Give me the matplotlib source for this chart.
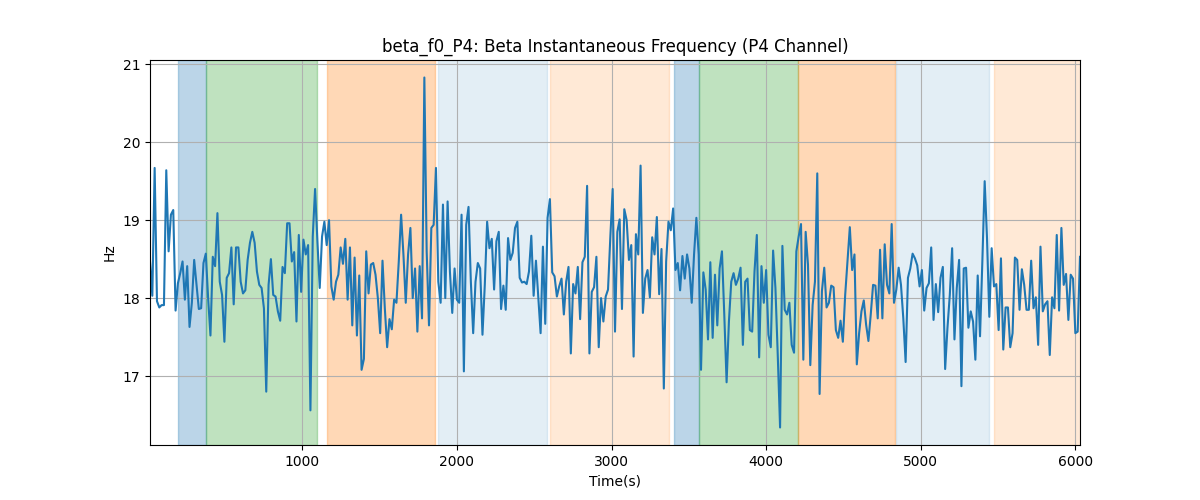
import numpy as np
import matplotlib
matplotlib.use("Agg")
import matplotlib.pyplot as plt

# beta instantaneous frequency, P4 channel (Hz), one sample every ~15 s
freq_hz = [
    18.47, 18.03, 19.67, 17.96, 17.88, 17.91, 17.91, 19.64, 18.60, 19.07,
    19.13, 17.84, 18.19, 18.32, 18.47, 17.98, 18.41, 17.63, 17.94, 18.49,
    18.17, 17.86, 17.87, 18.45, 18.57, 18.00, 17.52, 18.53, 18.41, 19.09,
    18.21, 18.04, 17.44, 18.26, 18.32, 18.65, 17.92, 18.65, 18.65, 18.21,
    18.06, 18.10, 18.49, 18.71, 18.85, 18.71, 18.34, 18.17, 18.13, 17.87,
    16.80,
    18.17, 18.50, 18.04, 18.02, 17.83, 17.71, 18.40, 18.32, 18.96, 18.96,
    18.47, 18.59, 17.70, 18.81, 18.08, 18.75, 18.56, 18.68, 16.56, 18.79,
    19.40, 18.73, 18.13, 18.79, 18.98, 18.68, 19.00, 18.15, 17.98, 18.21,
    18.30, 18.65, 18.44, 18.76, 17.98, 18.65, 17.65, 18.52, 17.52, 18.29,
    17.08, 17.22, 18.60, 18.06, 18.43, 18.45, 18.30, 18.00, 17.55, 18.48,
    17.87, 17.37, 17.73, 17.60,
    17.98, 17.94, 18.47, 19.07, 18.56, 17.94, 18.56, 18.90, 18.00, 18.38,
    17.57, 18.41, 17.74, 20.83, 18.60, 17.65, 18.90, 18.94, 19.67, 18.21,
    17.94, 19.20, 18.00, 19.24, 18.34, 17.81, 18.38, 17.98, 17.94, 19.07,
    17.06, 18.94, 19.17, 18.21, 17.55, 18.21, 18.45, 18.38, 17.53, 18.17,
    18.98, 18.64, 18.76, 18.11, 18.73, 18.85, 17.86, 18.16, 17.85, 18.77,
    18.49, 18.58, 18.90, 18.98,
    18.26, 18.20, 18.21, 18.18, 18.34, 18.80, 18.03, 18.48, 18.02, 17.55,
    18.66, 17.67, 19.03, 19.27, 18.33, 18.28, 18.02, 18.15, 18.25, 17.79,
    18.21, 18.40, 17.29, 18.18, 18.06, 18.40, 17.73, 18.46, 18.53, 19.44,
    17.29, 18.08, 18.14, 18.53, 17.37, 18.00, 17.70, 18.02, 18.11, 18.79,
    19.40, 17.57, 18.85, 19.01, 17.86, 19.14, 19.00, 18.49, 18.68, 17.25,
    18.82, 18.56, 19.70, 17.81,
    18.25, 18.36, 18.01, 18.78, 18.56, 19.04, 18.05, 18.63, 16.84, 18.47,
    18.98, 18.87, 19.15, 18.36, 18.45, 18.10, 18.54, 18.25, 18.56, 18.38,
    17.94, 18.56, 19.03, 18.56, 17.08, 18.33, 18.11, 17.47, 18.46, 17.49,
    18.30, 17.65, 18.38, 18.60, 17.79, 16.92, 17.70, 18.21, 18.32, 18.17,
    18.25, 18.39, 17.40, 18.21, 18.25, 17.59, 17.57, 18.34, 18.81, 17.24,
    18.41, 17.94, 18.36, 17.53,
    17.37, 18.61, 18.13, 17.27, 16.34, 18.67, 17.85, 17.79, 17.94, 17.40,
    17.30, 18.60, 18.79, 18.95, 17.21, 18.85, 18.43, 17.14, 17.91, 18.21,
    19.60, 16.77, 18.09, 18.39, 17.88, 17.94, 18.16, 18.14, 17.59, 17.49,
    17.71, 17.44, 18.04, 18.47, 18.91, 18.36, 18.56, 17.15, 17.55, 17.83,
    17.97, 17.66, 17.45, 17.79, 18.17, 18.16, 17.74, 18.62, 17.74, 18.69,
    18.17, 18.06, 18.95, 17.94,
    18.11, 18.39, 18.17, 17.74, 17.18, 18.26, 18.38, 18.57, 18.51, 18.42,
    18.15, 18.36, 17.84, 18.13, 18.19, 18.65, 17.72, 18.18, 17.82, 18.26,
    18.40, 17.09, 17.62, 18.04, 18.64, 17.47, 18.13, 18.49, 16.87, 18.38,
    18.39, 17.62, 17.83, 17.70, 17.21, 18.29, 17.51, 18.47, 19.50, 18.77,
    17.76, 18.64, 18.15, 18.18, 17.59, 18.51, 17.34, 17.88, 17.88, 17.37,
    17.55, 18.52, 18.49, 17.85,
    18.37, 18.17, 17.85, 17.85, 18.48, 17.87, 18.01, 17.40, 18.66, 17.83,
    17.92, 17.96, 17.27, 18.01, 17.87, 18.81, 17.84, 18.90, 18.17, 18.31,
    17.72, 18.30, 18.25, 17.55, 17.57, 18.53,
]
t_first, t_last = 15.0, 6030.0

# shaded task phases (start, end in seconds) and their kind
phase_start = [198, 376, 1160, 1876, 2603, 3407, 3567, 4209, 4841, 5475]
phase_end = [376, 1094, 1859, 2583, 3371, 3567, 4205, 4835, 5443, 6100]
phase_kind = ['a', 'b', 'c', 'd', 'e', 'a', 'b', 'c', 'd', 'e']

kind_style = {
    'a': ('tab:blue', 0.3),
    'b': ('tab:green', 0.3),
    'c': ('tab:orange', 0.3),
    'd': ('tab:blue', 0.12),
    'e': ('tab:orange', 0.17),
}

t = np.linspace(t_first, t_last, len(freq_hz))

fig, ax = plt.subplots(figsize=(12, 5), dpi=100)
for s, e, k in zip(phase_start, phase_end, phase_kind):
    col, a = kind_style[k]
    ax.axvspan(s, e, color=col, alpha=a)

ax.plot(t, freq_hz, color='tab:blue', linewidth=1.5)
ax.set_xlim(t[0], t[-1])
ax.grid(True)
ax.set_xlabel('Time(s)')
ax.set_ylabel('Hz')
ax.set_title('beta_f0_P4: Beta Instantaneous Frequency (P4 Channel)')

fig.savefig('out.png', dpi=100)
